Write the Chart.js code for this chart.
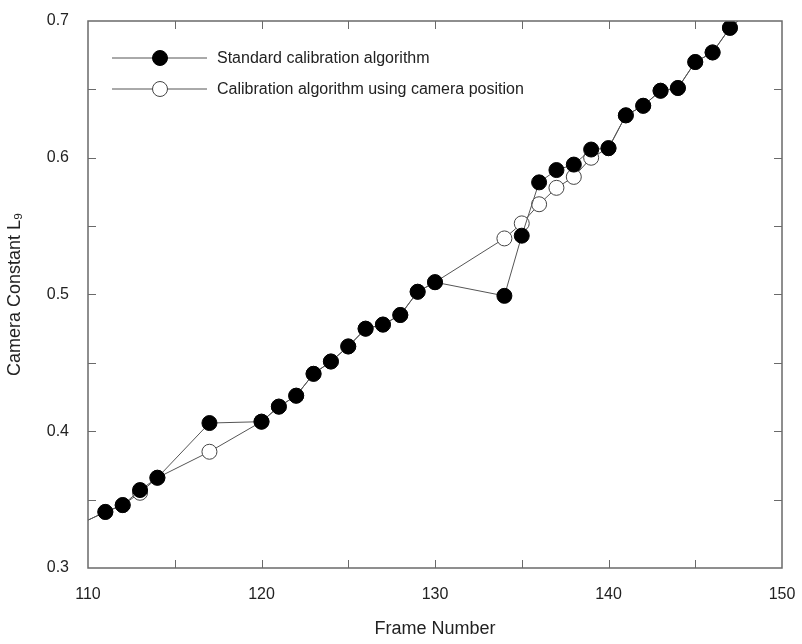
<!DOCTYPE html>
<html>
<head>
<meta charset="utf-8">
<script src="https://cdn.jsdelivr.net/npm/chart.js@4/dist/chart.umd.min.js"></script>
<style>
  html, body { margin: 0; padding: 0; background: #fff; }
  #wrap { width: 802px; height: 644px; }
</style>
</head>
<body>
<div id="wrap"><canvas id="c" width="802" height="644"></canvas></div>
<script>
// ─── Data ───────────────────────────────────────────────────────────────────
const FRAMES = [109, 111, 112, 113, 114, 117, 120, 121, 122, 123, 124, 125, 126, 127, 128,
                129, 130, 134, 135, 136, 137, 138, 139, 140, 141, 142, 143, 144, 145, 146, 147, 148];
const STANDARD = [0.329, 0.341, 0.346, 0.357, 0.366, 0.406, 0.407, 0.418, 0.426, 0.442, 0.451,
                  0.462, 0.475, 0.478, 0.485, 0.502, 0.509, 0.499, 0.543, 0.582, 0.591, 0.595,
                  0.606, 0.607, 0.631, 0.638, 0.649, 0.651, 0.670, 0.677, 0.695, 0.706];
const CAMERA_POS = [0.329, 0.341, 0.346, 0.355, 0.366, 0.385, 0.407, 0.418, 0.426, 0.442, 0.451,
                    0.462, 0.475, 0.478, 0.485, 0.502, 0.509, 0.541, 0.552, 0.566, 0.578, 0.586,
                    0.600, 0.607, 0.631, 0.638, 0.649, 0.651, 0.670, 0.677, 0.695, 0.706];
const SERIES_NAMES = ["Standard calibration algorithm", "Calibration algorithm using camera position"];
const X_RANGE = [110, 150];
const Y_RANGE = [0.3, 0.7];
const X_TITLE = "Frame Number";
const Y_TITLE = "Camera Constant L\u2089";

const FONT = "'Liberation Sans', Arial, sans-serif";
const INK  = "#222";
const AXIS = "#6a6a6a";

const toPoints = ys => FRAMES.map((f, i) => ({ x: f, y: ys[i] }));

// ─── Frame + inward ticks on all four sides ─────────────────────────────────
const framePlugin = {
    id: "frame",
    afterDatasetsDraw(chart) {
        const { ctx, chartArea: a, scales: { x, y } } = chart;
        const len = 8;
        ctx.save();
        ctx.strokeStyle = AXIS;
        ctx.lineWidth = 1.5;
        ctx.strokeRect(a.left, a.top, a.right - a.left, a.bottom - a.top);
        ctx.lineWidth = 1;
        const xs = [], ys = [];
        for (let v = X_RANGE[0] + 5; v < X_RANGE[1]; v += 5) xs.push(v);
        for (let k = 1; k < 8; k++) ys.push(Y_RANGE[0] + k * 0.05);
        ctx.beginPath();
        xs.forEach(v => {
            const px = Math.round(x.getPixelForValue(v)) + 0.5;
            ctx.moveTo(px, a.bottom); ctx.lineTo(px, a.bottom - len);
            ctx.moveTo(px, a.top);    ctx.lineTo(px, a.top + len);
        });
        ys.forEach(v => {
            const py = Math.round(y.getPixelForValue(v)) + 0.5;
            ctx.moveTo(a.left, py);  ctx.lineTo(a.left + len, py);
            ctx.moveTo(a.right, py); ctx.lineTo(a.right - len, py);
        });
        ctx.stroke();
        ctx.restore();
    },
};

// ─── Legend drawn inside the plot, line + marker + label ────────────────────
const legendPlugin = {
    id: "insideLegend",
    afterDraw(chart) {
        const { ctx, chartArea: a } = chart;
        ctx.save();
        ctx.font = "16px " + FONT;
        ctx.textBaseline = "middle";
        chart.data.datasets.forEach((ds, i) => {
            const yy = a.top + 37 + i * 31;
            const x0 = a.left + 24, x1 = a.left + 119, xm = a.left + 72;
            ctx.strokeStyle = "#555";
            ctx.lineWidth = 1;
            ctx.beginPath();
            ctx.moveTo(x0, yy); ctx.lineTo(x1, yy);
            ctx.stroke();
            ctx.beginPath();
            ctx.arc(xm, yy, 7.5, 0, Math.PI * 2);
            ctx.fillStyle = ds.pointBackgroundColor;
            ctx.fill();
            ctx.strokeStyle = ds.pointBorderColor;
            ctx.stroke();
            ctx.fillStyle = INK;
            ctx.fillText(ds.label, a.left + 129, yy + 1);
        });
        ctx.restore();
    },
};

new Chart(document.getElementById("c"), {
    type: "line",
    data: {
        datasets: [
            {
                label: SERIES_NAMES[0],
                data: toPoints(STANDARD),
                borderColor: "#555",
                borderWidth: 1,
                pointRadius: 7.5,
                pointBackgroundColor: "#000",
                pointBorderColor: "#000",
                pointBorderWidth: 1,
            },
            {
                label: SERIES_NAMES[1],
                data: toPoints(CAMERA_POS),
                borderColor: "#555",
                borderWidth: 1,
                pointRadius: 7.5,
                pointBackgroundColor: "#fff",
                pointBorderColor: "#444",
                pointBorderWidth: 1,
            },
        ],
    },
    options: {
        responsive: false,
        animation: false,
        layout: { padding: { top: 21, right: 20, left: 0, bottom: 0 } },
        plugins: { legend: { display: false }, tooltip: { enabled: false } },
        scales: {
            x: {
                type: "linear",
                min: X_RANGE[0], max: X_RANGE[1],
                grid: { display: false },
                border: { display: false },
                ticks: { stepSize: 10, color: INK, font: { family: FONT, size: 16 }, padding: 9 },
                title: { display: true, text: X_TITLE, color: INK, font: { family: FONT, size: 18 }, padding: { top: 9 } },
                afterFit: s => { s.height = 76; s.paddingLeft = 0; s.paddingRight = 0; },
            },
            y: {
                type: "linear",
                min: Y_RANGE[0], max: Y_RANGE[1],
                grid: { display: false },
                border: { display: false },
                ticks: { stepSize: 0.1, color: INK, font: { family: FONT, size: 16 }, padding: 11,
                         callback: v => v.toFixed(1) },
                title: { display: true, text: Y_TITLE, color: INK, font: { family: FONT, size: 18 }, padding: { bottom: 2 } },
                afterFit: s => { s.width = 88; s.paddingTop = 0; s.paddingBottom = 0; },
            },
        },
    },
    plugins: [framePlugin, legendPlugin],
});
</script>
</body>
</html>
